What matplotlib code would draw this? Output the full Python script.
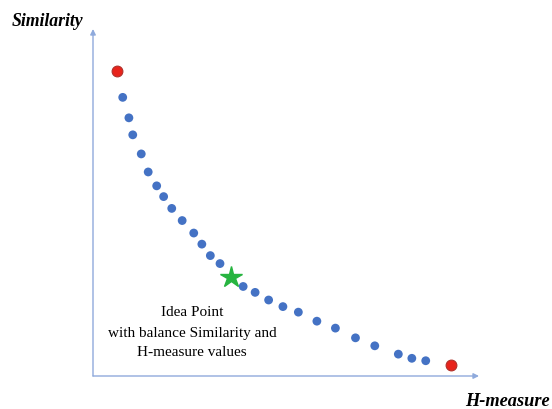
import matplotlib
matplotlib.use("Agg")
import matplotlib.pyplot as plt

# Data (normalized H-measure, Similarity)
h_measure = [0.077, 0.093, 0.103, 0.125, 0.143, 0.165, 0.183, 0.204, 0.231, 0.261,
             0.282, 0.304, 0.329, 0.389, 0.420, 0.455, 0.492, 0.532, 0.580, 0.628,
             0.680, 0.730, 0.791, 0.826, 0.862]
similarity = [0.803, 0.744, 0.695, 0.640, 0.588, 0.548, 0.517, 0.483, 0.448, 0.412,
              0.380, 0.347, 0.324, 0.258, 0.241, 0.219, 0.200, 0.184, 0.158, 0.138,
              0.110, 0.087, 0.063, 0.051, 0.044]
extreme_h = [0.063, 0.927]
extreme_s = [0.878, 0.031]
ideal_h = [0.357]
ideal_s = [0.284]

W, H = 552, 410
fig = plt.figure(figsize=(W / 100, H / 100), dpi=100)
ax = fig.add_axes([93 / W, (H - 377) / H, (479 - 93) / W, (377 - 30) / H])
ax.set_xlim(0, 1)
ax.set_ylim(0, 1)
ax.axis("off")

axis_color = "#8FAADC"
ax.annotate("", xy=(1, 0), xytext=(0, 0), xycoords="axes fraction",
            arrowprops=dict(arrowstyle="-|>", color=axis_color, lw=1.0,
                            mutation_scale=8, shrinkA=0, shrinkB=0))
ax.annotate("", xy=(0, 1), xytext=(0, 0), xycoords="axes fraction",
            arrowprops=dict(arrowstyle="-|>", color=axis_color, lw=1.0,
                            mutation_scale=8, shrinkA=0, shrinkB=0))

ax.scatter(h_measure, similarity, s=40, color="#4472C4", edgecolors="none", zorder=3)
ax.scatter(extreme_h, extreme_s, s=60, color="#E8231B", edgecolors="#B0302A",
           linewidths=0.8, zorder=3)
ax.plot(ideal_h, ideal_s, marker="*", markersize=16, color="#27B440",
        linestyle="none", zorder=4)

serif = ["Liberation Serif", "DejaVu Serif"]
fig.text(12 / W, 1 - 22 / H, "Similarity", fontsize=12.8, fontweight="bold",
         fontstyle="italic", family=serif, ha="left", va="center")
fig.text(550 / W, 1 - 402 / H, "H-measure", fontsize=13.2, fontweight="bold",
         fontstyle="italic", family=serif, ha="right", va="center")

lines = ["Idea Point", "with balance Similarity and", "H-measure values"]
for i, t in enumerate(lines):
    fig.text(192 / W, 1 - (313 + 20 * i) / H, t, fontsize=11, family=serif,
             ha="center", va="center", color="#000000")

fig.savefig("out.png", dpi=100)
